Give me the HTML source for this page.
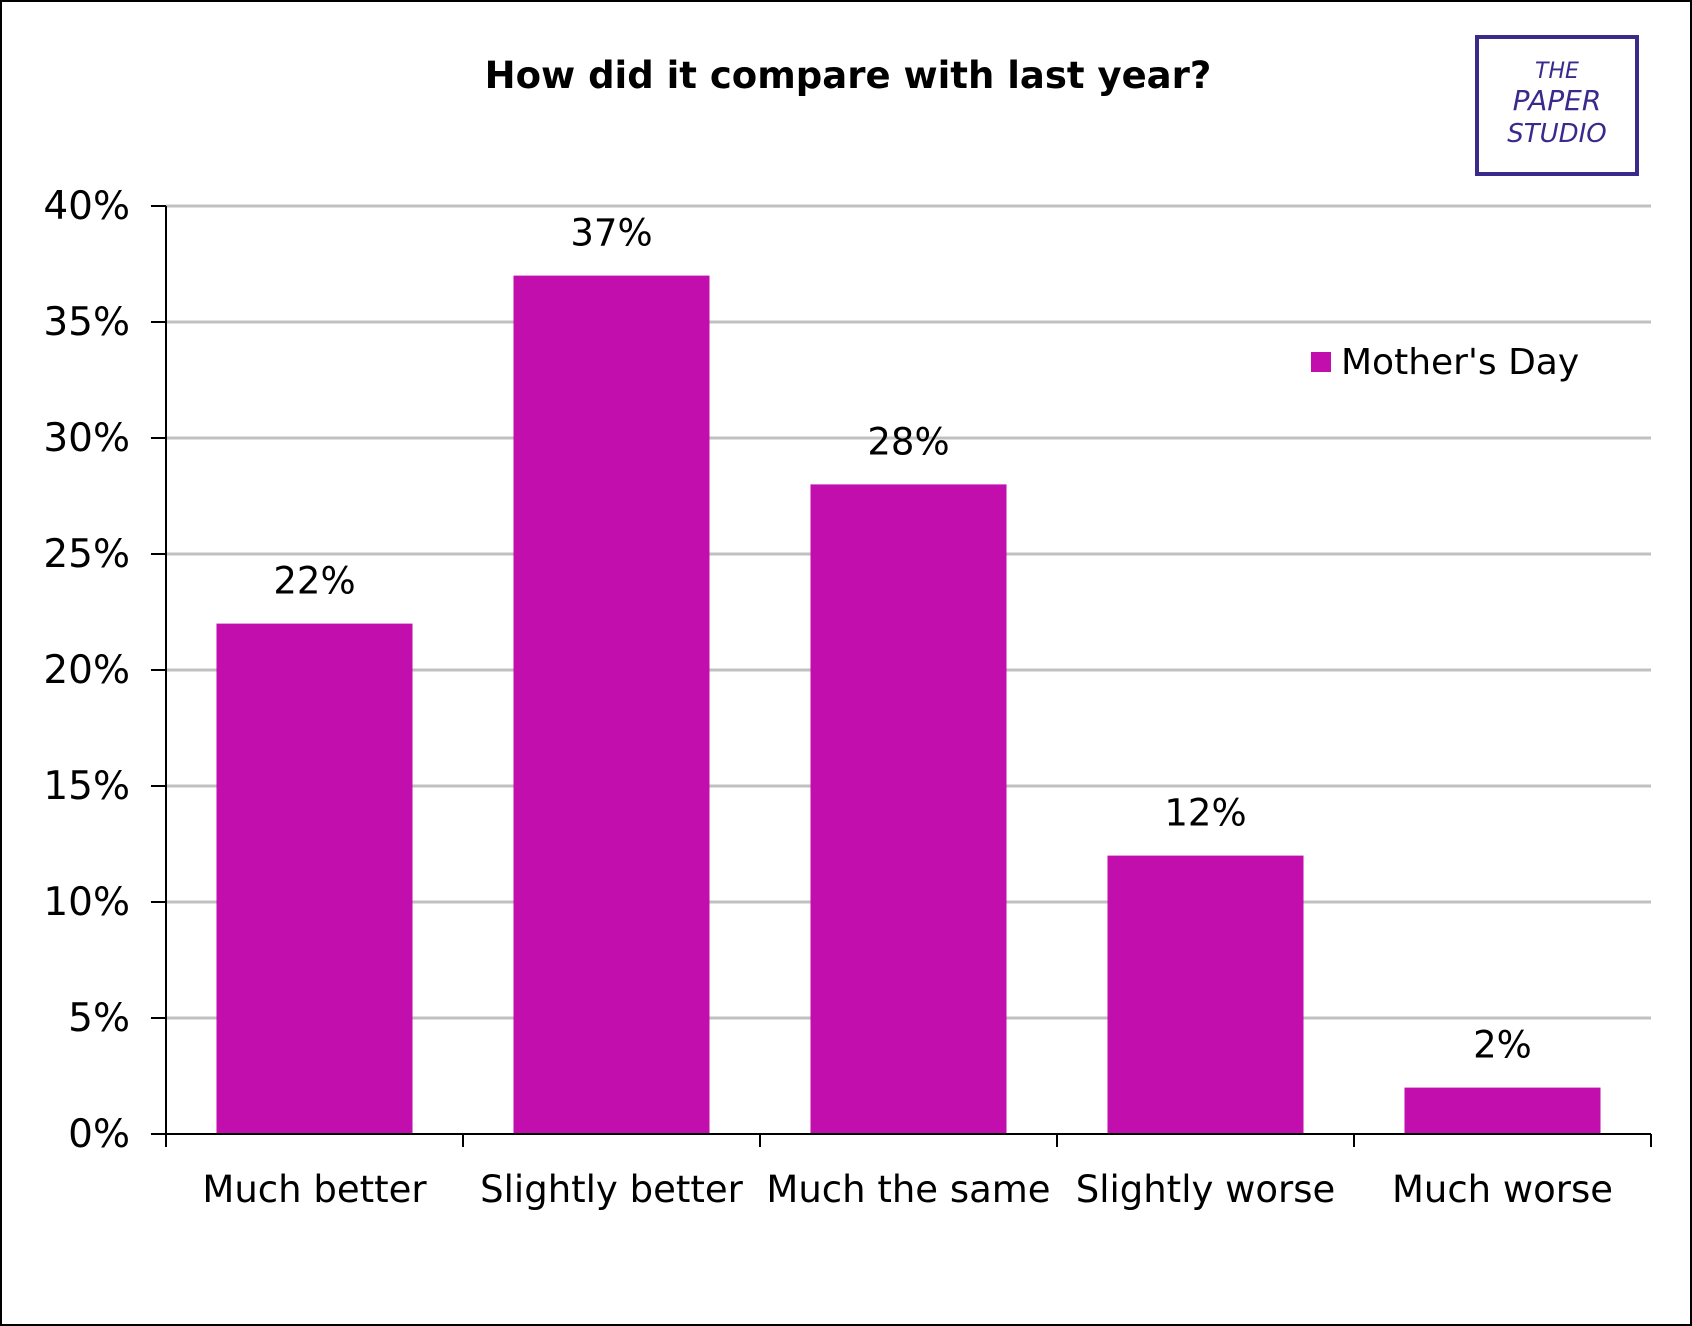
<!DOCTYPE html>
<html><head><meta charset="utf-8"><style>
html,body{margin:0;padding:0;background:#fff}
svg{display:block}
text{font-family:"DejaVu Sans","Liberation Sans",sans-serif}
</style></head><body>
<svg width="1692" height="1326" viewBox="0 0 1692 1326">
<rect x="1" y="1" width="1690" height="1324" fill="#fff" stroke="#000" stroke-width="2"/>
<text x="848" y="88" text-anchor="middle" font-size="37" font-weight="bold">How did it compare with last year?</text>
<g fill="none" stroke="#3a2a8c" stroke-width="4">
<rect x="1477" y="37" width="160" height="137"/>
<text x="1557" y="78" text-anchor="middle" font-size="22" fill="#3a2a8c" stroke="none" font-style="italic" font-family="Liberation Serif,serif">THE</text>
<text x="1557" y="110" text-anchor="middle" font-size="28" fill="#3a2a8c" stroke="none" font-style="italic" font-family="Liberation Serif,serif">PAPER</text>
<text x="1557" y="142" text-anchor="middle" font-size="26" fill="#3a2a8c" stroke="none" font-style="italic" font-family="Liberation Serif,serif">STUDIO</text>
</g>
<g id="grid"></g><g id="bars"></g><g id="axes"></g>
<g>
<rect x="1311" y="352" width="20" height="20" fill="#c30eae"/>
<text x="1341" y="374" font-size="36">Mother's Day</text>
</g>
</svg>
<script>
const categories=["Much better","Slightly better","Much the same","Slightly worse","Much worse"];
const values=[22,37,28,12,2];
const valueLabels=["22%","37%","28%","12%","2%"];
const yTicks=[0,5,10,15,20,25,30,35,40];
const NS="http://www.w3.org/2000/svg";
const X0=166,X1=1651,Y0=1134,Y1=206,YMAX=40;
const bw=(X1-X0)/categories.length;
function y(v){return Y0-v*(Y0-Y1)/YMAX;}
function x(i){return X0+bw*i;}
function mk(t,a,p){const e=document.createElementNS(NS,t);for(const k in a)e.setAttribute(k,a[k]);p.appendChild(e);return e;}
const grid=document.getElementById('grid'),bars=document.getElementById('bars'),axes=document.getElementById('axes');
yTicks.forEach(t=>{
 if(t>0){const g=mk('line',{x1:X0,x2:X1,y1:y(t),y2:y(t),stroke:'#c0c0c0','stroke-width':3},grid);
 
 }
 const tk=mk('line',{x1:X0-15,x2:X0,y1:y(t),y2:y(t),stroke:'#000','stroke-width':2},axes);
 
 
 const l=mk('text',{x:X0-36,y:y(t)+13,'text-anchor':'end','font-size':39},axes);
 l.textContent=t+'%';
 
 
});
categories.forEach((c,i)=>{
 const cx=x(i)+bw/2,w=bw*0.66;
 const b=mk('rect',{x:cx-w/2,y:y(values[i]),width:w,height:Y0-y(values[i]),fill:'#c30eae'},bars);
 
 
 const v=mk('text',{x:cx,y:y(values[i])-30,'text-anchor':'middle','font-size':37},bars);
 v.textContent=valueLabels[i];
 
 
 const l=mk('text',{x:cx,y:1202,'text-anchor':'middle','font-size':37},axes);
 l.textContent=c;
 
 
});
for(let i=0;i<=categories.length;i++){
 const t=mk('line',{x1:x(i),x2:x(i),y1:Y0,y2:Y0+13,stroke:'#000','stroke-width':2},axes);
 
 
}
const ya=mk('line',{x1:X0,x2:X0,y1:Y1,y2:Y0,stroke:'#000','stroke-width':2},axes);


const xa=mk('line',{x1:X0,x2:X1,y1:Y0,y2:Y0,stroke:'#000','stroke-width':2},axes);


</script>
</body></html>
